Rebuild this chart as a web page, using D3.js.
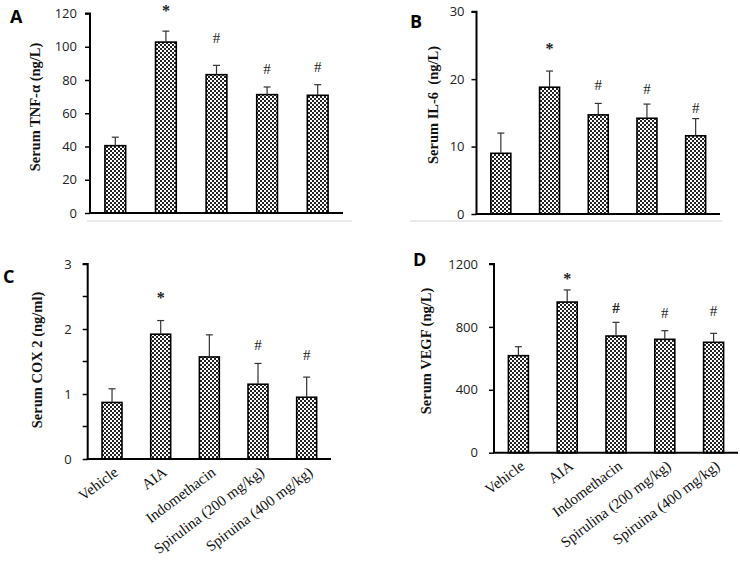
<!DOCTYPE html>
<html>
<head>
<meta charset="utf-8">
<script src="https://cdn.jsdelivr.net/npm/d3@7"></script>
<style>
  html, body { margin: 0; padding: 0; background: #fff; }
  svg { display: block; }
</style>
</head>
<body>
<svg id="chart" width="740" height="562"></svg>
<script>
// ---------------- DATA ----------------
const groups = ["Vehicle", "AIA", "Indomethacin", "Spirulina (200 mg/kg)", "Spiruina (400 mg/kg)"];

const tnfMean = [40.5, 102.8, 83.2, 71.2, 70.8];
const tnfErr  = [5.1, 6.6, 5.6, 4.6, 6.4];
const tnfMark = ["", "*", "#", "#", "#"];
const tnfMarkAt = [null, 123.6, 105.6, 86.4, 87.6];

const il6Mean = [9.0, 18.8, 14.7, 14.2, 11.6];
const il6Err  = [3.0, 2.4, 1.7, 2.1, 2.55];
const il6Mark = ["", "*", "#", "#", "#"];
const il6MarkAt = [null, 25.1, 19.2, 18.6, 15.7];

const coxMean = [0.87, 1.92, 1.57, 1.15, 0.95];
const coxErr  = [0.21, 0.21, 0.34, 0.32, 0.31];
const coxMark = ["", "*", "", "#", "#"];
const coxMarkAt = [null, 2.54, null, 1.75, 1.6];

const vegfMean = [617, 958, 742, 721, 702];
const vegfErr  = [57, 77, 87, 55, 57];
const vegfMark = ["", "*", "#", "#", "#"];
const vegfMarkAt = [null, 1130, 920, 888, 901];

const tnfTicks  = [0, 20, 40, 60, 80, 100, 120];
const il6Ticks  = [0, 10, 20, 30];
const coxTicks  = [0, 1, 2, 3];
const coxMinor  = [0.5, 1.5, 2.5];
const vegfTicks = [0, 400, 800, 1200];

// ---------------- LAYOUT ----------------
const panels = [
  { letter: "A", mean: tnfMean, err: tnfErr, mark: tnfMark, markAt: tnfMarkAt, max: 120, ticks: tnfTicks, minor: [],
    x0: 90, x1: 343, yTop: 13.5, yBot: 213, tickPad: 8,
    ylabel: "Serum TNF-α (ng/L)", ylx: 35, yly: 107, lx: 10, ly: 23, xlabels: false, sep: [87, 352, 221] },
  { letter: "B", mean: il6Mean, err: il6Err, mark: il6Mark, markAt: il6MarkAt, max: 30, ticks: il6Ticks, minor: [],
    x0: 476.5, x1: 720, yTop: 11.7, yBot: 214, tickPad: 7,
    ylabel: "Serum IL-6  (ng/L)", ylx: 433, yly: 105, lx: 410, ly: 28, xlabels: false, sep: [410, 722, 221] },
  { letter: "C", mean: coxMean, err: coxErr, mark: coxMark, markAt: coxMarkAt, max: 3, ticks: coxTicks, minor: coxMinor,
    x0: 87.7, x1: 331, yTop: 264, yBot: 459, tickPad: 11,
    ylabel: "Serum COX 2 (ng/ml)", ylx: 37, yly: 360, lx: 3, ly: 283, xlabels: true },
  { letter: "D", mean: vegfMean, err: vegfErr, mark: vegfMark, markAt: vegfMarkAt, max: 1200, ticks: vegfTicks, minor: [],
    x0: 494, x1: 738, yTop: 264, yBot: 452.7, tickPad: 11,
    ylabel: "Serum VEGF (ng/L)", ylx: 426, yly: 351, lx: 413, ly: 266, xlabels: true, boldMark: 2 }
];

const svg = d3.select("#chart");

// checkerboard pattern
const defs = svg.append("defs");
const pat = defs.append("pattern").attr("id", "checker")
  .attr("patternUnits", "userSpaceOnUse").attr("width", 4).attr("height", 4);
pat.append("rect").attr("width", 4).attr("height", 4).attr("fill", "#fff");
pat.append("rect").attr("width", 2).attr("height", 2).attr("fill", "#222");
pat.append("rect").attr("x", 2).attr("y", 2).attr("width", 2).attr("height", 2).attr("fill", "#222");

const serif = "'Liberation Serif', 'Times New Roman', serif";
const sans = "'Open Sans', 'Noto Sans', sans-serif";

panels.forEach(p => {
  const g = svg.append("g");
  const x = d3.scaleBand().domain(groups).range([p.x0, p.x1]).paddingInner(0.59).paddingOuter(0.295);
  const y = d3.scaleLinear().domain([0, p.max]).range([p.yBot, p.yTop]);

  // separator gray line
  if (p.sep) {
    g.append("line").attr("x1", p.sep[0]).attr("x2", p.sep[1]).attr("y1", p.sep[2]).attr("y2", p.sep[2])
      .attr("stroke", "#d6d6d6").attr("stroke-width", 1);
  }

  // bars
  g.selectAll("rect.bar").data(groups).join("rect").attr("class", "bar")
    .attr("x", d => x(d)).attr("width", x.bandwidth())
    .attr("y", (d, i) => y(p.mean[i])).attr("height", (d, i) => y(0) - y(p.mean[i]))
    .attr("fill", "url(#checker)").attr("stroke", "#000").attr("stroke-width", 1.6);

  // error bars
  const cx = d => x(d) + x.bandwidth() / 2;
  g.selectAll("line.err").data(groups).join("line").attr("class", "err")
    .attr("x1", cx).attr("x2", cx)
    .attr("y1", (d, i) => y(p.mean[i])).attr("y2", (d, i) => y(p.mean[i] + p.err[i]))
    .attr("stroke", "#333").attr("stroke-width", 1.2);
  g.selectAll("line.cap").data(groups).join("line").attr("class", "cap")
    .attr("x1", d => cx(d) - 3.5).attr("x2", d => cx(d) + 3.5)
    .attr("y1", (d, i) => y(p.mean[i] + p.err[i])).attr("y2", (d, i) => y(p.mean[i] + p.err[i]))
    .attr("stroke", "#333").attr("stroke-width", 1.2);

  // significance marks
  groups.forEach((d, i) => {
    if (!p.mark[i]) return;
    const isStar = p.mark[i] === "*";
    g.append("text").attr("x", cx(d)).attr("y", y(p.markAt[i]))
      .attr("dy", isStar ? "0.55em" : "0.34em")
      .attr("text-anchor", "middle")
      .attr("font-family", serif).attr("font-size", isStar ? 16 : 15)
      .attr("font-weight", (isStar || p.boldMark === i) ? "bold" : "normal")
      .attr("fill", "#222").text(p.mark[i]);
  });

  // y axis
  const ya = g.append("g").attr("transform", `translate(${p.x0},0)`)
    .call(d3.axisLeft(y).tickValues(p.ticks).tickSize(5).tickPadding(p.tickPad).tickFormat(d3.format("d")));
  ya.select(".domain").attr("stroke", "#000").attr("stroke-width", 2).attr("d", `M-5,${p.yTop}H0V${p.yBot}`);
  ya.selectAll(".tick line").attr("stroke", "#000").attr("stroke-width", 1.5);
  ya.selectAll(".tick text").attr("font-family", sans).attr("font-size", 13).attr("fill", "#222");
  p.minor.forEach(v => {
    g.append("line").attr("x1", p.x0 - 5).attr("x2", p.x0).attr("y1", y(v)).attr("y2", y(v))
      .attr("stroke", "#000").attr("stroke-width", 1.5);
  });

  // x axis line
  g.append("line").attr("x1", p.x0 - 1).attr("x2", p.x1).attr("y1", p.yBot).attr("y2", p.yBot)
    .attr("stroke", "#000").attr("stroke-width", 2);

  // x labels
  if (p.xlabels) {
    groups.forEach(d => {
      g.append("text")
        .attr("transform", `translate(${cx(d) + 4},${p.yBot + 11}) rotate(-37)`)
        .attr("text-anchor", "end").attr("dy", "0.35em")
        .attr("font-family", serif).attr("font-size", 15).attr("fill", "#111")
        .text(d);
    });
  }

  // y label
  g.append("text").attr("transform", `translate(${p.ylx},${p.yly}) rotate(-90)`)
    .attr("text-anchor", "middle").attr("dy", "0.35em")
    .attr("font-family", serif).attr("font-weight", "bold").attr("font-size", 14.5).attr("fill", "#111")
    .style("white-space", "pre")
    .text(p.ylabel);

  // panel letter
  g.append("text").attr("x", p.lx).attr("y", p.ly)
    .attr("font-family", sans).attr("font-weight", "bold").attr("font-size", 18).attr("fill", "#000")
    .text(p.letter);
});
</script>
</body>
</html>
